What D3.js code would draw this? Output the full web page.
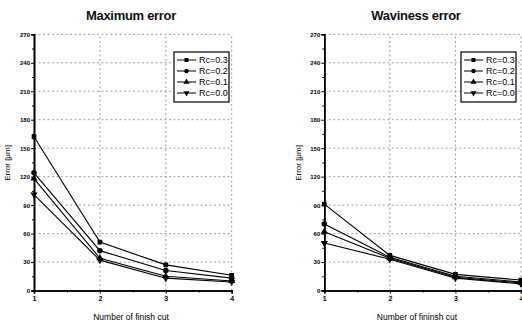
<!DOCTYPE html>
<html>
<head>
<meta charset="utf-8">
<script src="https://cdn.jsdelivr.net/npm/d3@7"></script>
<style>
  body { margin: 0; background: #fff; }
  svg { font-family: Arial, "Liberation Sans", sans-serif; }
</style>
</head>
<body>
<div id="chart"></div>
<script>
// finish cut number and series names
var cuts = [1, 2, 3, 4];
var seriesNames = ["Rc=0.3", "Rc=0.2", "Rc=0.1", "Rc=0.0"];
var yTicks = [0, 30, 60, 90, 120, 150, 180, 210, 240, 270];

// Maximum error [um]
var maxRc03 = [162, 51, 27, 16];
var maxRc02 = [124, 42, 21, 13];
var maxRc01 = [118, 34, 15, 10];
var maxRc00 = [101, 32, 13, 9];

// Waviness error [um]
var wavRc03 = [91, 37, 17, 11];
var wavRc02 = [70, 35, 15, 9];
var wavRc01 = [62, 34, 14, 8];
var wavRc00 = [50, 33, 13, 7];

var W = 522, H = 326;
var svg = d3.select("#chart").append("svg")
    .attr("width", W)
    .attr("height", H);

var symbols = [d3.symbolSquare, d3.symbolCircle, d3.symbolTriangle, d3.symbolTriangle];

function drawChart(opt) {
  var x = d3.scaleLinear().domain([1, 4]).range([opt.left, opt.right]);
  var y = d3.scaleLinear().domain([0, 270]).range([290.5, 34.3]);

  var g = svg.append("g");

  // grid
  g.selectAll(".hgrid")
      .data(yTicks.slice(1))
      .enter().append("line")
      .attr("x1", x(1)).attr("x2", x(4))
      .attr("y1", function(d) { return y(d); })
      .attr("y2", function(d) { return y(d); })
      .attr("stroke", "#888")
      .attr("stroke-width", 0.8)
      .attr("stroke-dasharray", "2,2.5");

  g.selectAll(".vgrid")
      .data(cuts.slice(1))
      .enter().append("line")
      .attr("x1", function(d) { return x(d); })
      .attr("x2", function(d) { return x(d); })
      .attr("y1", y(0)).attr("y2", y(270))
      .attr("stroke", "#888")
      .attr("stroke-width", 0.8)
      .attr("stroke-dasharray", "2,2.5");

  // axes
  var yAxis = d3.axisLeft(y).tickValues(yTicks).tickSize(3).tickFormat(d3.format("d"));
  var yMinor = d3.axisLeft(y).tickValues(d3.range(15, 270, 30)).tickSize(2).tickFormat("");
  var xAxis = d3.axisBottom(x).tickValues(cuts).tickSize(3).tickFormat(d3.format("d"));
  var xMinor = d3.axisBottom(x).tickValues([1.5, 2.5, 3.5]).tickSize(2).tickFormat("");

  var ya = g.append("g").attr("transform", "translate(" + x(1) + ",0)").call(yAxis);
  g.append("g").attr("transform", "translate(" + x(1) + ",0)").call(yMinor);
  var xa = g.append("g").attr("transform", "translate(0," + y(0) + ")").call(xAxis);
  g.append("g").attr("transform", "translate(0," + y(0) + ")").call(xMinor);

  g.selectAll(".domain").attr("stroke", "#000").attr("stroke-width", 1.6);
  g.selectAll(".tick line").attr("stroke", "#000");
  ya.selectAll("text").attr("font-size", 6).attr("font-weight", "bold").attr("x", -4);
  xa.selectAll("text").attr("font-size", 7).attr("font-weight", "bold").attr("y", 6);

  // lines and markers
  var line = d3.line()
      .x(function(d, i) { return x(cuts[i]); })
      .y(function(d) { return y(d); });

  opt.series.forEach(function(vals, si) {
    g.append("path")
        .datum(vals)
        .attr("fill", "none")
        .attr("stroke", "#000")
        .attr("stroke-width", 1.1)
        .attr("d", line);

    g.selectAll(".m" + si)
        .data(vals)
        .enter().append("path")
        .attr("d", d3.symbol().type(symbols[si]).size(si === 1 ? 24 : 22))
        .attr("fill", "#000")
        .attr("transform", function(d, i) {
          return "translate(" + x(cuts[i]) + "," + y(d) + ")" + (si === 3 ? " rotate(180)" : "");
        });
  });

  // titles
  svg.append("text")
      .attr("x", opt.titleX).attr("y", 20)
      .attr("text-anchor", "middle")
      .attr("font-size", 13)
      .attr("font-weight", "bold")
      .attr("letter-spacing", -0.3)
      .attr("fill", "#111")
      .text(opt.title);

  svg.append("text")
      .attr("x", opt.xTitleX).attr("y", 320)
      .attr("text-anchor", "middle")
      .attr("font-size", 8.5)
      .attr("fill", "#000")
      .text(opt.xTitle);

  svg.append("text")
      .attr("transform", "translate(" + opt.yTitleX + ",163) rotate(-90)")
      .attr("text-anchor", "middle")
      .attr("font-size", 8)
      .attr("fill", "#000")
      .text("Error [\u03bcm]");

  // legend
  var lg = svg.append("g").attr("transform", "translate(" + opt.legendX + ",52)");
  lg.append("rect")
      .attr("width", 55).attr("height", 50)
      .attr("fill", "#fff")
      .attr("stroke", "#000")
      .attr("stroke-width", 1.2);

  seriesNames.forEach(function(name, si) {
    var ly = 8 + si * 11;
    lg.append("line")
        .attr("x1", 3).attr("x2", 22)
        .attr("y1", ly).attr("y2", ly)
        .attr("stroke", "#000");
    lg.append("path")
        .attr("d", d3.symbol().type(symbols[si]).size(16))
        .attr("transform", "translate(12.5," + ly + ")" + (si === 3 ? " rotate(180)" : ""))
        .attr("fill", "#000");
    lg.append("text")
        .attr("x", 25).attr("y", ly + 3)
        .attr("font-size", 9)
        .attr("fill", "#000")
        .text(name);
  });
}

drawChart({
  left: 34, right: 231.7,
  title: "Maximum error", titleX: 131,
  xTitle: "Number of finish cut", xTitleX: 131,
  yTitleX: 10, legendX: 174,
  series: [maxRc03, maxRc02, maxRc01, maxRc00]
});

drawChart({
  left: 324.3, right: 521,
  title: "Waviness error", titleX: 416,
  xTitle: "Number of fininsh cut", xTitleX: 417,
  yTitleX: 301, legendX: 461,
  series: [wavRc03, wavRc02, wavRc01, wavRc00]
});
</script>
</body>
</html>
